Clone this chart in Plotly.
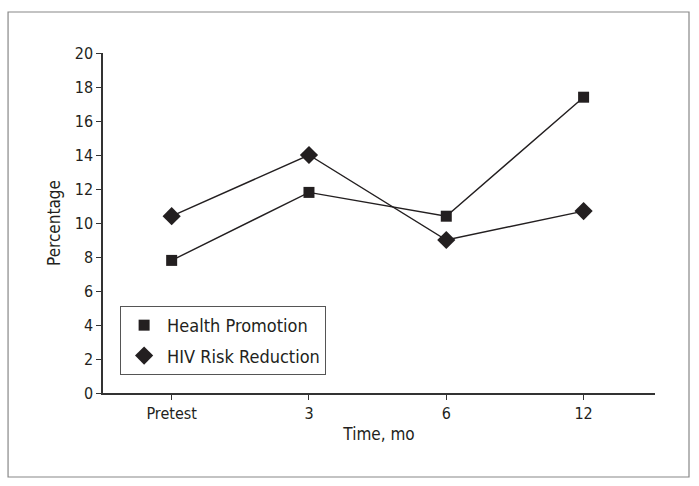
import plotly.graph_objects as go

# data
time_points = ["Pretest", "3", "6", "12"]
health_promotion = [7.8, 11.8, 10.4, 17.4]
hiv_risk_reduction = [10.4, 14.0, 9.0, 10.7]
y_ticks = [0, 2, 4, 6, 8, 10, 12, 14, 16, 18, 20]

FONT = "DejaVu Sans Condensed, Liberation Sans Narrow, sans-serif"
INK = "#231f20"

fig = go.Figure()
series = [
    ("Health Promotion", health_promotion, "square", 11),
    ("HIV Risk Reduction", hiv_risk_reduction, "diamond", 14),
]
for name, values, symbol, size in series:
    # connecting line
    fig.add_trace(go.Scatter(
        x=time_points, y=values, mode="lines",
        line=dict(color=INK, width=1.4),
        showlegend=False, hoverinfo="skip",
    ))
    # markers (also used for legend)
    fig.add_trace(go.Scatter(
        x=time_points, y=values, mode="markers", name=name,
        legendgroup=name,
        marker=dict(symbol=symbol, size=size, color=INK),
    ))

fig.update_layout(
    width=699, height=486,
    margin=dict(l=103, r=44, t=53, b=93),
    paper_bgcolor="white", plot_bgcolor="white",
    font=dict(family=FONT, size=16, color=INK),
    legend=dict(
        x=0.031, y=0.256, xanchor="left", yanchor="top",
        bordercolor="#555", borderwidth=1, bgcolor="white",
        font=dict(family=FONT, size=18, color=INK),
        tracegroupgap=4, itemwidth=36,
    ),
    shapes=[dict(
        type="rect", xref="paper", yref="paper",
        x0=-0.172, x1=1.0616, y0=-0.247, y1=1.1206,
        line=dict(color="#888", width=1.2), layer="below",
    )],
)
fig.update_xaxes(
    type="category", range=[-0.5, 3.52],
    showline=True, linecolor="#333", linewidth=1.5,
    ticks="outside", ticklen=5, tickcolor="#333",
    showgrid=False, zeroline=False,
    title=dict(text="Time, mo", standoff=6, font=dict(size=17)),
)
fig.update_yaxes(
    range=[0, 20], tickvals=y_ticks,
    showline=True, linecolor="#333", linewidth=1.5,
    ticks="outside", ticklen=5, tickcolor="#333",
    showgrid=False, zeroline=False,
    title=dict(text="Percentage", standoff=10, font=dict(size=17)),
)

# drop the default page margin so the figure sits at the window origin
fig.write_html("out.html", config={"displayModeBar": False},
               post_script="document.body.style.margin='0';")
